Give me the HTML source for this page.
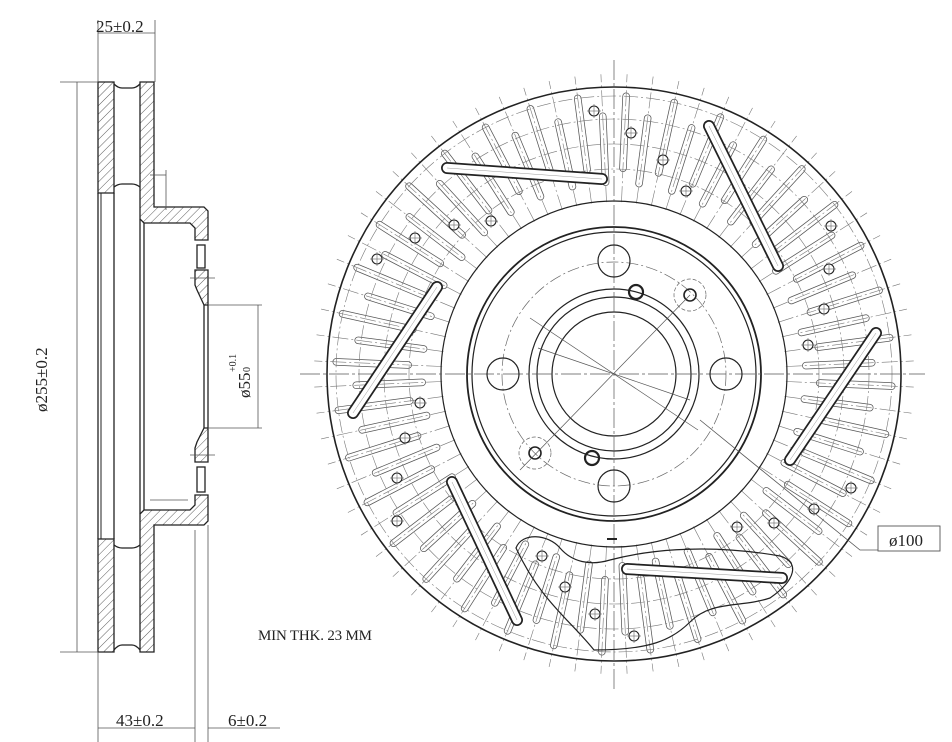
<!DOCTYPE html>
<html><head><meta charset="utf-8">
<style>
html,body{margin:0;padding:0;background:#fff;}
svg{display:block;}
text{font-family:"Liberation Serif","DejaVu Serif",serif;fill:#222;}
</style></head>
<body>
<svg id="s" width="952" height="742" viewBox="0 0 952 742" xmlns="http://www.w3.org/2000/svg">
<defs>
<pattern id="h" patternUnits="userSpaceOnUse" width="6" height="6" patternTransform="rotate(45)">
<line x1="0" y1="0" x2="0" y2="6" stroke="#333" stroke-width="0.8"/>
</pattern>
</defs>
<g fill="none" stroke="#222" stroke-width="1.3">
<path d="M98,82 H114 V193 H98 Z" fill="url(#h)"/>
<path d="M98,539 H114 V652 H98 Z" fill="url(#h)"/>
<path d="M140,82 H154 V207 H204 L208,211 V240 H195 V228 L190,223 H144 L140,219 Z" fill="url(#h)"/>
<path d="M140,652 H154 V525 H204 L208,521 V495 H195 V505 L190,510 H144 L140,514 Z" fill="url(#h)"/>
<path d="M195,270 H208 V305 H204 L197,290 L195,285 Z" fill="url(#h)"/>
<path d="M195,462 H208 V428 H204 L197,442 L195,448 Z" fill="url(#h)"/>
<rect x="197" y="245" width="8" height="23"/>
<rect x="197" y="467" width="8" height="25"/>
<line x1="98" y1="193" x2="98" y2="539"/>
<line x1="101" y1="193" x2="101" y2="539" stroke-width="1"/>
<line x1="114" y1="193" x2="114" y2="539"/>
<line x1="140" y1="219" x2="140" y2="514"/>
<line x1="144" y1="223" x2="144" y2="510"/>
<path d="M114,84 Q118,88 122,88 H132 Q136,88 140,84"/>
<path d="M114,187 Q118,184 122,184 H132 Q136,184 140,187"/>
<path d="M114,545 Q118,548 122,548 H132 Q136,548 140,545"/>
<path d="M114,650 Q118,645 122,645 H132 Q136,645 140,650"/>
<line x1="204" y1="305" x2="204" y2="428"/>
<line x1="208" y1="305" x2="208" y2="428"/>
</g>
<g stroke="#555" stroke-width="0.8" fill="none">
<line x1="98" y1="20" x2="98" y2="82"/><line x1="155" y1="20" x2="155" y2="82"/>
<line x1="98" y1="33" x2="155" y2="33"/>
<line x1="60" y1="82" x2="98" y2="82"/><line x1="60" y1="652" x2="98" y2="652"/>
<line x1="77" y1="82" x2="77" y2="652"/>
<line x1="208" y1="305" x2="262" y2="305"/><line x1="208" y1="428" x2="262" y2="428"/>
<line x1="258" y1="305" x2="258" y2="428"/>
<line x1="98" y1="652" x2="98" y2="742"/><line x1="195" y1="530" x2="195" y2="742"/><line x1="208" y1="525" x2="208" y2="742"/>
<line x1="98" y1="728" x2="195" y2="728"/><line x1="208" y1="728" x2="280" y2="728"/>
<line x1="150" y1="175" x2="166" y2="175"/><line x1="166" y1="170" x2="166" y2="210"/>
<line x1="190" y1="278" x2="215" y2="278"/><line x1="190" y1="455" x2="215" y2="455"/>
<line x1="150" y1="500" x2="188" y2="500"/>
</g>
<text x="96" y="32" font-size="17">25±0.2</text>
<text x="116" y="726" font-size="17">43±0.2</text>
<text x="228" y="726" font-size="17">6±0.2</text>
<text transform="translate(47,412) rotate(-90)" font-size="17">ø255±0.2</text>
<text transform="translate(250,398) rotate(-90)" font-size="17">ø55</text>
<text transform="translate(236,372) rotate(-90)" font-size="10">+0.1</text>
<text transform="translate(250,372) rotate(-90)" font-size="10">0</text>
<text x="258" y="640" font-size="15" textLength="114">MIN THK. 23 MM</text>
<g id="disc" fill="none" stroke="#222"></g>
<rect x="878" y="526" width="62" height="25" fill="#fff" stroke="#555" stroke-width="0.9"/>
<text x="889" y="546" font-size="17">ø100</text>
<polyline points="700,420 860,550 878,550" fill="none" stroke="#555" stroke-width="0.8"/>
</svg>
<script>
(function(){
var g=document.getElementById('disc'),NS='http://www.w3.org/2000/svg',cx=614,cy=374;
function el(t,a){var e=document.createElementNS(NS,t);for(var k in a)e.setAttribute(k,a[k]);g.appendChild(e);return e;}
var N=72;
for(var i=0;i<N;i++){var a=(i+0.5)*2*Math.PI/N,r1=(i%2)?192:206,r2=(i%2)?258:278;
var c=Math.cos(a),s=Math.sin(a);
el('line',{x1:cx+r1*c,y1:cy+r1*s,x2:cx+r2*c,y2:cy+r2*s,stroke:'#555','stroke-width':7.5,'stroke-linecap':'round'});
el('line',{x1:cx+r1*c,y1:cy+r1*s,x2:cx+r2*c,y2:cy+r2*s,stroke:'#fff','stroke-width':6,'stroke-linecap':'round'});}
for(var i=0;i<N;i++){var a=(i+0.5)*2*Math.PI/N;
el('line',{x1:cx+172*Math.cos(a),y1:cy+172*Math.sin(a),x2:cx+300*Math.cos(a),y2:cy+300*Math.sin(a),stroke:'#777','stroke-width':0.6,'stroke-dasharray':'16 3 2 3'});}
[205,230,255,278].forEach(function(r){el('circle',{cx:cx,cy:cy,r:r,stroke:'#777','stroke-width':0.6,'stroke-dasharray':'14 3 2 3'});});
el('circle',{cx:cx,cy:cy,r:287,'stroke-width':1.6});
el('circle',{cx:cx,cy:cy,r:173,'stroke-width':1.2});
el('circle',{cx:cx,cy:cy,r:147,'stroke-width':1.8});
el('circle',{cx:cx,cy:cy,r:142,'stroke-width':1.2});
el('circle',{cx:cx,cy:cy,r:85,'stroke-width':1.2});
el('circle',{cx:cx,cy:cy,r:77,'stroke-width':1.2});
el('circle',{cx:cx,cy:cy,r:62,'stroke-width':1.2});
el('circle',{cx:cx,cy:cy,r:112,stroke:'#666','stroke-width':0.7,'stroke-dasharray':'12 3 2 3'});
el('line',{x1:300,y1:cy,x2:925,y2:cy,stroke:'#555','stroke-width':0.7,'stroke-dasharray':'20 3 3 3'});
el('line',{x1:cx,y1:60,x2:cx,y2:690,stroke:'#555','stroke-width':0.7,'stroke-dasharray':'20 3 3 3'});
[[614,261],[503,374],[726,374],[614,486]].forEach(function(p){el('circle',{cx:p[0],cy:p[1],r:16,'stroke-width':1.2});});
[[636,292],[592,458]].forEach(function(p){el('circle',{cx:p[0],cy:p[1],r:7,'stroke-width':2.2});});
[[690,295],[535,453]].forEach(function(p){el('circle',{cx:p[0],cy:p[1],r:6,'stroke-width':1.6});el('circle',{cx:p[0],cy:p[1],r:16,stroke:'#666','stroke-width':0.7,'stroke-dasharray':'4 2'});});
[[594,111],[631,133],[663,160],[686,191],[491,221],[454,225],[415,238],[377,259],[831,226],[829,269],[824,309],[808,345],[420,403],[405,438],[397,478],[397,521],[851,488],[814,509],[774,523],[737,527],[542,556],[565,587],[595,614],[634,636]].forEach(function(p){
el('circle',{cx:p[0],cy:p[1],r:5,'stroke-width':1.1,fill:'#fff'});
el('line',{x1:p[0]-7,y1:p[1],x2:p[0]+7,y2:p[1],stroke:'#666','stroke-width':0.6});
el('line',{x1:p[0],y1:p[1]-7,x2:p[0],y2:p[1]+7,stroke:'#666','stroke-width':0.6});});
[[447,168,602,179],[709,126,778,266],[876,333,790,460],[627,569,782,578],[452,482,517,620],[437,287,353,413]].forEach(function(s){
el('line',{x1:s[0],y1:s[1],x2:s[2],y2:s[3],stroke:'#222','stroke-width':12,'stroke-linecap':'round'});
el('line',{x1:s[0],y1:s[1],x2:s[2],y2:s[3],stroke:'#fff','stroke-width':8.5,'stroke-linecap':'round'});
el('line',{x1:s[0],y1:s[1],x2:s[2],y2:s[3],stroke:'#999','stroke-width':0.5});});
el('path',{d:'M516,548 C522,532 548,534 560,548 C572,562 590,566 610,560 C640,552 700,542 780,556 C800,562 796,580 770,598 C740,608 712,600 690,622 C672,640 650,650 594,650 C570,620 540,600 516,548 Z','stroke-width':1.2});
el('line',{x1:530,y1:318,x2:698,y2:430,stroke:'#555','stroke-width':0.7});
el('line',{x1:538,y1:348,x2:690,y2:400,stroke:'#555','stroke-width':0.7});
el('line',{x1:520,y1:470,x2:690,y2:295,stroke:'#555','stroke-width':0.7});
el('line',{x1:607,y1:539,x2:617,y2:539,'stroke-width':2});
})();
</script>
</body></html>
